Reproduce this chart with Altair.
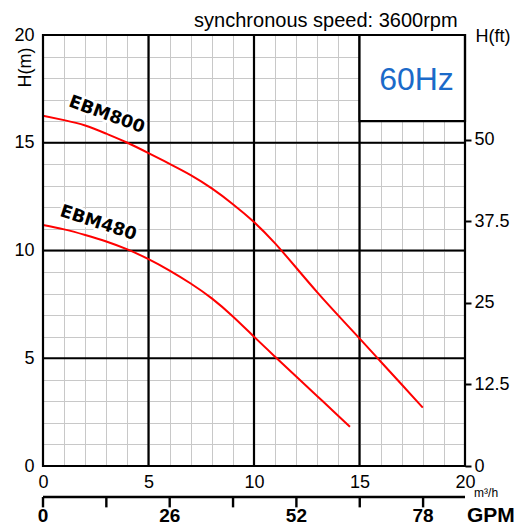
import altair as alt
import pandas as pd

# ---- data ----
q_800 = [0, 1, 2, 3, 4, 5, 6, 7, 8, 9, 10, 11, 12, 13, 14, 15, 16, 17, 18]
h_800 = [16.25, 16.05, 15.8, 15.42, 15.0, 14.52, 14.02, 13.5, 12.88, 12.15, 11.32,
         10.33, 9.2, 8.06, 6.98, 5.92, 4.85, 3.78, 2.71]
q_480 = [0, 1, 2, 3, 4, 5, 6, 7, 8, 9, 10, 11, 12, 13, 14, 14.55]
h_480 = [11.18, 10.98, 10.72, 10.42, 10.05, 9.6, 9.07, 8.47, 7.78, 6.94, 6.0,
         5.07, 4.15, 3.24, 2.32, 1.82]

flow_ticks = list(range(0, 21))      # m3/h
head_ticks = list(range(0, 21))      # m
major_lines = [5, 10, 15]
ft_ticks = [0, 12.5, 25, 37.5, 50]
gpm_ticks = [0, 13, 26, 39, 52, 65, 78]
gpm_labels = [0, 26, 52, 78]
ft_max = 66.1          # H(ft) at top of the plot, as drawn
gpm_per_m3h = 4.33     # GPM scale as drawn (78 GPM ~ 18 m3/h)

FONT = "Liberation Sans"

curves = pd.concat([
    pd.DataFrame({"q": q_800, "h": h_800, "model": "EBM800"}),
    pd.DataFrame({"q": q_480, "h": h_480, "model": "EBM480"}),
])

xs = alt.Scale(domain=[0, 20], nice=False, zero=False)
ys = alt.Scale(domain=[0, 20], nice=False, zero=False)
x_axis = alt.Axis(values=flow_ticks, grid=True, gridColor="#c8c8c8", gridWidth=1,
                  ticks=False, domain=False, labelFlush=False, labelOverlap=False,
                  labelExpr="datum.value % 5 == 0 ? datum.label : ''",
                  labelFont=FONT, labelFontSize=18, labelColor="black",
                  labelPadding=7, title=None)
y_axis = alt.Axis(values=head_ticks, grid=True, gridColor="#c8c8c8", gridWidth=1,
                  ticks=False, domain=False, labelFlush=False, labelOverlap=False,
                  labelExpr="datum.value % 5 == 0 ? datum.label : ''",
                  labelFont=FONT, labelFontSize=18, labelColor="black",
                  labelPadding=9, title=None)


def X(f):
    return alt.X(f, type="quantitative", scale=xs, axis=x_axis)


def Y(f):
    return alt.Y(f, type="quantitative", scale=ys, axis=y_axis)


def pt(x, y):
    return pd.DataFrame({"x": [x], "y": [y]})


vrules = alt.Chart(pd.DataFrame({"v": major_lines})).mark_rule(
    color="black", strokeWidth=2.2).encode(x=X("v"))
hrules = alt.Chart(pd.DataFrame({"v": major_lines})).mark_rule(
    color="black", strokeWidth=2.2).encode(y=Y("v"))

lines = alt.Chart(curves).mark_line(color="#ff0000", strokeWidth=2,
                                    interpolate="natural").encode(
    x=X("q"), y=Y("h"), detail="model:N")

box = alt.Chart(pd.DataFrame({"x": [15], "x2": [20], "y": [16], "y2": [20]})).mark_rect(
    fill="white", stroke="black", strokeWidth=2.2).encode(
    x=X("x"), x2="x2", y=Y("y"), y2="y2")

frame = alt.Chart(pd.DataFrame({"x": [0], "x2": [20], "y": [0], "y2": [20]})).mark_rect(
    fill=None, filled=False, stroke="black", strokeWidth=2.2).encode(
    x=X("x"), x2="x2", y=Y("y"), y2="y2")

# secondary GPM axis under the m3/h axis
gpm_line = alt.Chart(pd.DataFrame({"x": [0], "x2": [20], "y": [-1.44]})).mark_rule(
    color="black", strokeWidth=2.4).encode(x=X("x"), x2="x2", y=Y("y"))
gpm_tick = alt.Chart(pd.DataFrame({"gpm": gpm_ticks})).transform_calculate(
    q=f"datum.gpm / {gpm_per_m3h}", y0="-1.44", y1="-1.92").mark_rule(
    color="black", strokeWidth=2.4).encode(x=X("q"), y=Y("y0"), y2="y1")
gpm_text = alt.Chart(pd.DataFrame({"gpm": gpm_labels})).transform_calculate(
    q=f"datum.gpm / {gpm_per_m3h}", y="-2.62").mark_text(
    font=FONT, fontSize=19, fontWeight="bold", color="black", align="center",
    baseline="alphabetic").encode(x=X("q"), y=Y("y"), text="gpm:Q")


def label(df, text, **kw):
    return alt.Chart(df).mark_text(text=text, **kw).encode(x=X("x"), y=Y("y"))


lab_style = dict(font="DejaVu Sans", fontWeight="bold", fontSize=17.5,
                 align="center", baseline="middle")
curve_labels = []
for txt, (lx, ly), ang in [("EBM800", (3.02, 16.29), 20), ("EBM480", (2.62, 11.26), 18)]:
    curve_labels.append(label(pt(lx, ly), txt, angle=ang, stroke="white",
                              strokeWidth=5, strokeJoin="round", color="white", **lab_style))
    curve_labels.append(label(pt(lx, ly), txt, angle=ang, color="black", **lab_style))

texts = [
    label(pt(17.7, 17.45), "60Hz", font=FONT, fontSize=32, color="#1b6ac9",
          align="center", baseline="alphabetic"),
    label(pt(19.65, 20.39), "synchronous speed: 3600rpm", font=FONT, fontSize=20,
          color="black", align="right", baseline="alphabetic"),
    label(pt(21.33, 19.68), "H(ft)", font=FONT, fontSize=18, color="black",
          align="center", baseline="alphabetic"),
    label(pt(-0.57, 18.49), "H(m)", font=FONT, fontSize=18, color="black",
          align="center", baseline="alphabetic", angle=270),
    label(pt(21.0, -1.45), "m³/h", font=FONT, fontSize=12, color="black",
          align="center", baseline="alphabetic"),
    label(pt(21.23, -2.6), "GPM", font=FONT, fontSize=21, fontWeight="bold",
          color="black", align="center", baseline="alphabetic"),
]

main = alt.layer(vrules, hrules, lines, box, frame, gpm_line, gpm_tick, gpm_text,
                 *curve_labels, *texts)

aux = alt.Chart(pd.DataFrame({"ft": [0, ft_max]})).mark_point(opacity=0).encode(
    y=alt.Y("ft:Q", scale=alt.Scale(domain=[0, ft_max], nice=False, zero=False),
            axis=alt.Axis(orient="right", values=ft_ticks, domain=False, ticks=True,
                          tickColor="black", tickWidth=2, tickSize=6, grid=False,
                          format=".1~f",
                          labelFont=FONT, labelFontSize=18, labelColor="black",
                          labelPadding=3, labelFlush=False, labelOverlap=False,
                          title=None)),
)

chart = alt.layer(main, aux).resolve_scale(y="independent").properties(
    width=422, height=431,
    padding={"left": 35, "top": 27, "right": 49, "bottom": 60},
    autosize=alt.AutoSizeParams(type="none"),
    background="white",
).configure_view(stroke=None)

chart.save("out.html", embed_options={"renderer": "svg", "actions": False})
